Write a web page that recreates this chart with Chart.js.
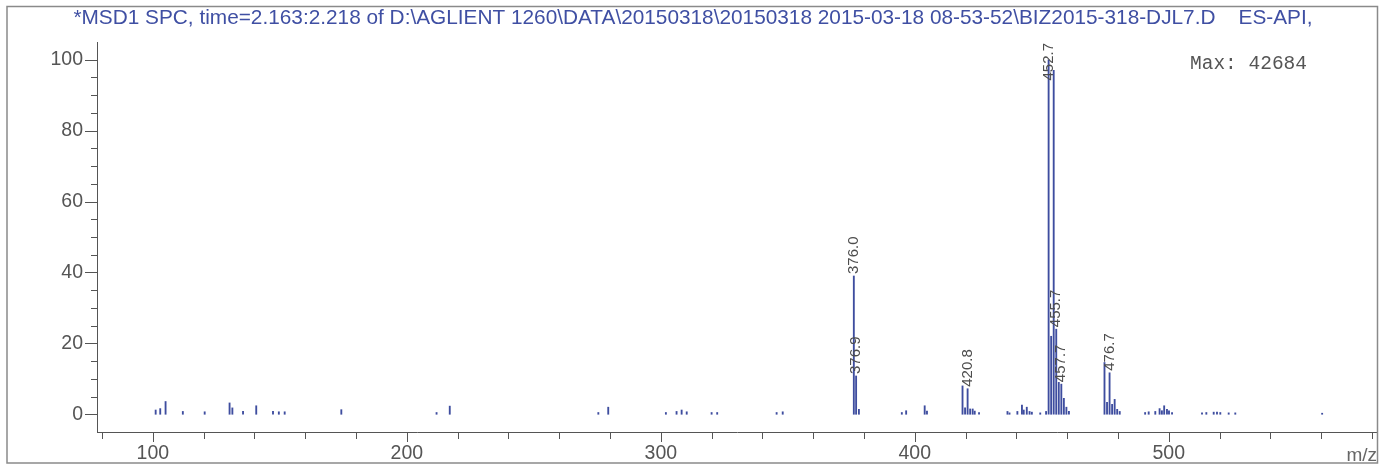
<!DOCTYPE html>
<html><head><meta charset="utf-8">
<script src="https://cdn.jsdelivr.net/npm/chart.js@4.4.1/dist/chart.umd.min.js"></script>
<style>html,body{margin:0;padding:0;background:#fff;overflow:hidden}canvas{display:block}</style>
</head><body>
<canvas id="c" width="1381" height="466"></canvas>
<script>
// m/z of each peak
const mzValues = [101.1,102.9,105.0,111.8,120.4,130.2,131.3,135.5,140.7,147.3,149.6,151.9,174.2,211.7,216.9,
  275.4,279.3,302.0,306.2,308.2,310.2,320.0,322.2,345.6,348.0,
  376.0,376.9,378.0,394.9,396.6,403.9,404.8,
  418.8,419.8,420.8,421.8,422.8,423.6,425.3,
  436.5,437.3,440.4,442.2,442.9,444.1,445.2,446.1,449.4,
  451.7,452.7,453.7,454.7,455.7,456.7,457.7,458.7,459.7,460.7,
  474.7,475.7,476.7,477.7,478.7,479.7,480.7,
  490.7,492.1,494.7,496.4,497.3,498.2,499.3,500.1,501.3,
  513.1,514.8,517.7,519.0,520.3,523.6,526.2,560.4];
// relative abundance (%)
const abundance = [1.2,1.6,3.6,0.8,0.7,3.2,1.8,0.8,2.4,0.8,0.7,0.7,1.3,0.5,2.3,
  0.5,2.0,0.5,0.8,1.2,0.7,0.5,0.5,0.5,0.7,
  39.0,10.8,1.4,0.5,1.0,2.4,0.9,
  8.0,1.8,7.2,1.5,1.5,0.9,0.5,
  0.8,0.4,0.8,2.6,1.2,2.0,0.8,0.6,0.4,
  0.8,100,22,97,24,9,8.5,4.5,2.0,0.8,
  14.6,3.4,11.7,2.8,4.2,1.4,0.8,
  0.5,0.7,0.8,1.6,1.0,2.4,1.4,1.0,0.5,
  0.4,0.5,0.6,0.6,0.5,0.4,0.4,0.3];
const labeledPeaks = [376.0, 376.9, 420.8, 452.7, 455.7, 457.7, 476.7];
const yTickLabels = [0, 20, 40, 60, 80, 100];
const yMinorTicks = [0,5,10,15,20,25,30,35,40,45,50,55,60,65,70,75,80,85,90,95,100];
const xTickLabels = [100, 200, 300, 400, 500];
const xMinorTicks = [80,100,120,140,160,180,200,220,240,260,280,300,320,340,360,380,400,420,440,460,480,500,520,540,560,580];
const titleText = '*MSD1 SPC, time=2.163:2.218 of D:\\AGLIENT 1260\\DATA\\20150318\\20150318 2015-03-18 08-53-52\\BIZ2015-318-DJL7.D    ES-API,';
const maxText = 'Max: 42684';
const xUnit = 'm/z';

const SANS = "'Liberation Sans', Arial, sans-serif";
const MONO = "'Liberation Mono', 'Courier New', monospace";
const GRAY = '#555';

const decor = {
  id: 'decor',
  afterDraw(chart) {
    const ctx = chart.ctx, ca = chart.chartArea;
    const xs = chart.scales.x, ys = chart.scales.y;
    ctx.save();
    // frame
    ctx.strokeStyle = '#8a8a8a'; ctx.lineWidth = 1.5;
    ctx.strokeRect(7, 6.5, 1370.5, 456.5);
    // title
    ctx.fillStyle = '#3f4fa3';
    ctx.font = '20.8px ' + SANS;
    ctx.textAlign = 'center'; ctx.textBaseline = 'middle';
    ctx.fillText(titleText, 693, 18);
    // ticks
    ctx.strokeStyle = GRAY; ctx.lineWidth = 1;
    ctx.beginPath();
    xMinorTicks.forEach(v => {
      const px = Math.round(xs.getPixelForValue(v)) + 0.5;
      const len = xTickLabels.includes(v) ? 10 : 7;
      ctx.moveTo(px, ca.bottom); ctx.lineTo(px, ca.bottom + len);
    });
    yMinorTicks.forEach(v => {
      const py = Math.round(ys.getPixelForValue(v)) + 0.5;
      const len = yTickLabels.includes(v) ? 12 : 6;
      ctx.moveTo(ca.left, py); ctx.lineTo(ca.left - len, py);
    });
    ctx.stroke();
    // peak labels
    ctx.fillStyle = '#4d4d4d';
    ctx.font = '15px ' + SANS;
    ctx.textAlign = 'left'; ctx.textBaseline = 'middle';
    labeledPeaks.forEach(m => {
      const i = mzValues.indexOf(m);
      const v = abundance[i];
      const txt = m.toFixed(1);
      const w = ctx.measureText(txt).width;
      const px = xs.getPixelForValue(m);
      let start = ys.getPixelForValue(v) - 2;
      if (start - w < ca.top + 1) start = ca.top + 1 + w;
      ctx.save();
      ctx.translate(px, start);
      ctx.rotate(-Math.PI / 2);
      ctx.fillText(txt, 0, 0);
      ctx.restore();
    });
    // Max annotation
    ctx.fillStyle = GRAY;
    ctx.font = '19.5px ' + MONO;
    ctx.textAlign = 'left'; ctx.textBaseline = 'middle';
    ctx.fillText(maxText, ca.right - 187, ca.top + 22);
    // axis unit
    ctx.font = '19px ' + SANS;
    ctx.textAlign = 'right';
    ctx.fillStyle = '#666';
    ctx.fillText(xUnit, ca.right, ca.bottom + 24);
    ctx.restore();
  }
};

new Chart(document.getElementById('c'), {
  type: 'bar',
  data: {
    datasets: [{
      data: mzValues.map((m, i) => ({ x: m, y: abundance[i] })),
      backgroundColor: '#3e4d9f',
      borderWidth: 0,
      barThickness: 1.2
    }]
  },
  options: {
    responsive: false,
    animation: false,
    events: [],
    layout: { padding: { left: 0, right: 4, top: 42, bottom: 0 } },
    plugins: {
      legend: { display: false },
      tooltip: { enabled: false },
      title: { display: false }
    },
    scales: {
      x: {
        type: 'linear', min: 78, max: 582, offset: false,
        grid: { display: false, drawTicks: false, offset: false },
        border: { display: true, color: GRAY, width: 1 },
        afterBuildTicks: s => { s.ticks = xTickLabels.map(v => ({ value: v })); },
        afterFit: s => { s.height = 34; },
        ticks: { color: GRAY, font: { family: SANS, size: 19.5 }, padding: 10, maxRotation: 0, autoSkip: false }
      },
      y: {
        min: -5, max: 105,
        grid: { display: false, drawTicks: false },
        border: { display: true, color: GRAY, width: 1 },
        afterBuildTicks: s => { s.ticks = yTickLabels.map(v => ({ value: v })); },
        afterFit: s => { s.width = 97; },
        ticks: { color: GRAY, font: { family: SANS, size: 19.5 }, padding: 14, autoSkip: false }
      }
    }
  },
  plugins: [decor]
});
</script>
</body></html>
